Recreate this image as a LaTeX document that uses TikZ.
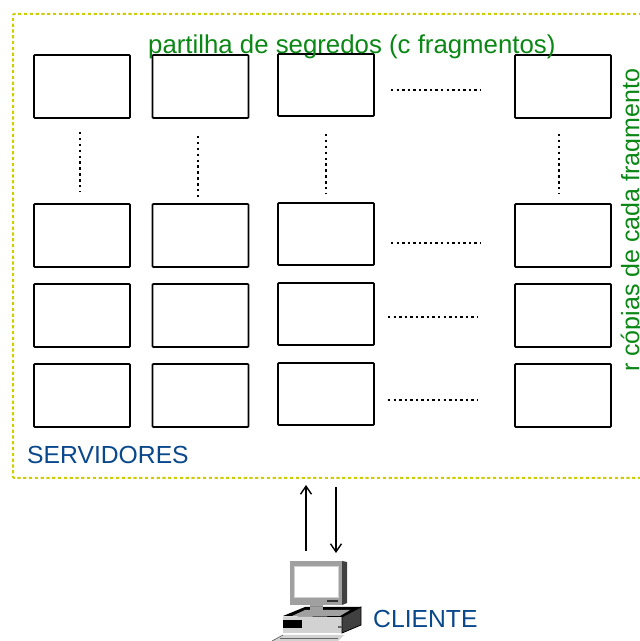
\documentclass[tikz,border=0pt]{standalone}
\usepackage{fontspec}
\setmainfont{Liberation Sans}
\usepackage{tikz}
\usetikzlibrary{positioning}
\usetikzlibrary{arrows.meta}

\begin{document}
\begin{tikzpicture}[x=1pt,y=1pt,>={Straight Barb[length=8pt,width=11pt,line width=1.4pt]},
	box node/.style={rectangle,draw,line width=1.7pt,rounded corners=0.8pt,minimum width=96pt,minimum height=63pt,inner sep=0pt,outer sep=0pt},
	hdots/.style={line width=2pt,dash pattern=on 2.4pt off 3.16pt},
	vdots/.style={line width=2pt,dash pattern=on 2.4pt off 3.5pt},
	link/.style={->,line width=1.5pt},
	green label/.style={text=labelgreen,font=\fontsize{25.8}{28}\selectfont,inner sep=0pt},
	blue label/.style={text=labelblue,font=\fontsize{24.7}{28}\selectfont,inner sep=0pt,anchor=base west}]
	
	\definecolor{labelgreen}{RGB}{10,135,20}
	\definecolor{labelblue}{RGB}{10,72,140}
	\definecolor{border}{RGB}{205,205,0}
	\definecolor{monitor}{RGB}{160,160,160}
	\definecolor{lightcase}{RGB}{210,210,210}
	
	\useasboundingbox (0,0) rectangle (640,641);
	
	\draw[border,line width=2pt,dash pattern=on 3.2pt off 2.6pt,rounded corners=1pt] (642,627) -- (13,627) -- (13,163) -- (642,163);
	
	\node[box node] (a1) at (82,554.5) {};
	\node[box node] (b1) [right of=a1,node distance=118.5pt] {};
	\node[box node,minimum height=62pt] (c1) at (326,556) {};
	\node[box node] (d1) at (563,554.5) {};
	\node[box node] (a2) [below of=a1,node distance=149pt] {};
	\node[box node] (b2) [below of=b1,node distance=149pt] {};
	\node[box node,minimum height=62pt] (c2) [below of=c1,node distance=149pt] {};
	\node[box node] (d2) [below of=d1,node distance=149pt] {};
	\node[box node] (a3) [below of=a2,node distance=80pt] {};
	\node[box node] (b3) [below of=b2,node distance=80pt] {};
	\node[box node,minimum height=62pt] (c3) [below of=c2,node distance=80pt] {};
	\node[box node] (d3) [below of=d2,node distance=80pt] {};
	\node[box node] (a4) [below of=a3,node distance=80pt] {};
	\node[box node] (b4) [below of=b3,node distance=80pt] {};
	\node[box node,minimum height=62pt] (c4) [below of=c3,node distance=80pt] {};
	\node[box node] (d4) [below of=d3,node distance=80pt] {};
	
	\coordinate (v1t) at (80,509);
	\coordinate (v1b) at (80,449);
	\coordinate (v2t) at (198,505);
	\coordinate (v2b) at (198,444);
	\coordinate (v3t) at (326,507);
	\coordinate (v3b) at (326,447);
	\coordinate (v4t) at (559,507);
	\coordinate (v4b) at (559,447);
	\coordinate (h1l) at (391,551);
	\coordinate (h1r) at (481,551);
	\coordinate (h2l) at (391,398);
	\coordinate (h2r) at (481,398);
	\coordinate (h3l) at (388,324);
	\coordinate (h3r) at (478,324);
	\coordinate (h4l) at (388,241);
	\coordinate (h4r) at (478,241);
	
	\path[vdots]
	(v1t) edge (v1b)
	(v2t) edge (v2b)
	(v3t) edge (v3b)
	(v4t) edge (v4b);
	\path[hdots]
	(h1l) edge (h1r)
	(h2l) edge (h2r)
	(h3l) edge (h3r)
	(h4l) edge (h4r);
	
	\node[green label,anchor=base west] (shares) at (148,587) {partilha de segredos (c fragmentos)};
	\node[green label,font=\fontsize{25}{28}\selectfont,anchor=base west,rotate=90] (copies) at (639,269) {r cópias de cada fragmento};
	\node[blue label] (servers) at (27,177) {SERVIDORES};
	\node[blue label] (client) at (373,13) {CLIENTE};
	
	\coordinate (up1) at (306,90);
	\coordinate (up2) at (306,156);
	\coordinate (down1) at (336,154);
	\coordinate (down2) at (336,88);
	\path[link]
	(up1) edge (up2)
	(down1) edge (down2);
	
	\fill[black!75] (342,80) -- (347,79) -- (347,38) -- (342,36) -- cycle;
	\fill[monitor] (290,80) rectangle (342,36);
	\fill[white] (294,74) rectangle (338,43);
	\draw[lightcase,line width=1pt] (294,74) rectangle (338,43);
	\fill[black!80] (327,41) rectangle (338,39);
	\fill[monitor] (310,36) rectangle (323,27);
	\fill[black] (283,25) -- (305,34) -- (361,34) -- (342,24) -- cycle;
	\fill[monitor] (292,25) -- (305,31) -- (350,31) -- (340,25) -- cycle;
	\fill[monitor] (310,34) rectangle (323,27);
	\fill[lightcase] (283,24) rectangle (342,8);
	\fill[black] (283,21) rectangle (302,13);
	\fill[black!75] (342,24) -- (361,34) -- (361,16) -- (342,8) -- cycle;
	\draw[black,line width=0.8pt] (342,24) -- (361,34) -- (361,16) -- (342,8) -- cycle;
	\fill[black!60] (338,15) rectangle (342,13);
	\fill[lightcase] (283,6) -- (344,6) -- (338,0) -- (272,0) -- cycle;
	\draw[black!60,line width=0.7pt] (280,3) -- (338,3);
	\draw[black!60,line width=0.7pt] (283,6) -- (272,0);
	
\end{tikzpicture}
\end{document}
